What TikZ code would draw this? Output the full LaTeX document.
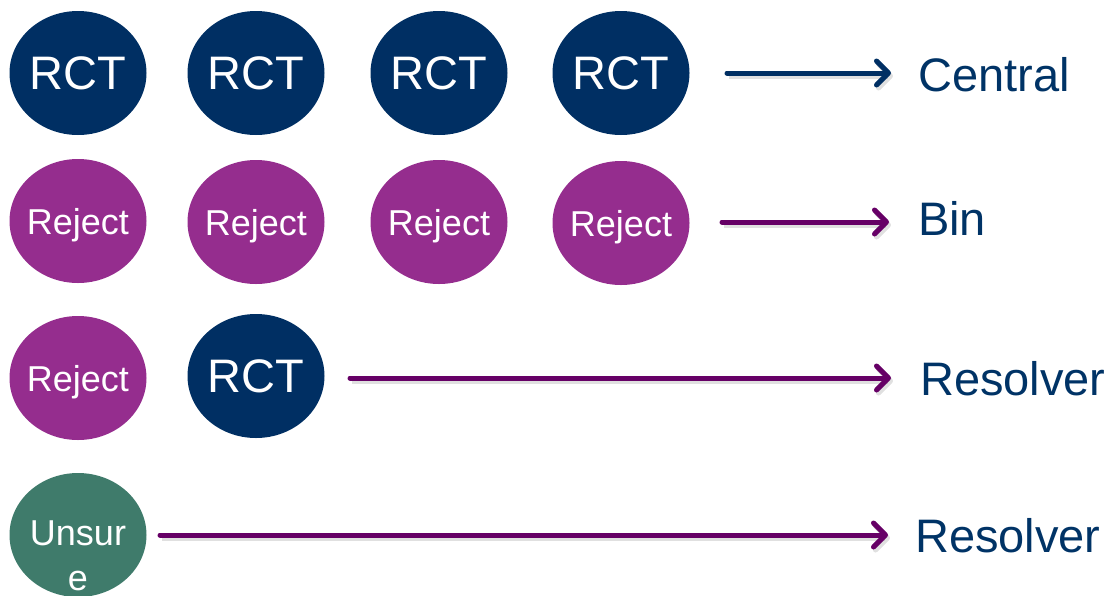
\documentclass[tikz,border=0pt]{standalone}
\usepackage{fontspec}
\setmainfont{Liberation Sans}
\usetikzlibrary{arrows.meta,shapes.geometric}
\definecolor{navy}{HTML}{002F63}
\definecolor{plum}{HTML}{952D8E}
\definecolor{arrowplum}{HTML}{660066}
\definecolor{teal}{HTML}{3F7B6B}
\definecolor{labelblue}{HTML}{003366}
% zero-width text box so the ellipse keeps its fixed size
\newcommand{\ovaltext}[1]{\makebox[0pt]{#1}}
\tikzset{
  oval/.style={ellipse, draw=none, minimum width=137pt, minimum height=124pt,
    inner sep=0pt, text=white, text depth=0pt},
  rct/.style={oval, fill=navy, font=\fontsize{47}{50}\selectfont},
  rej/.style={oval, fill=plum, font=\fontsize{36}{40}\selectfont},
  uns/.style={oval, fill=teal},
  dest/.style={anchor=base west, inner sep=0pt, text=labelblue,
    font=\fontsize{47}{50}\selectfont},
  flow/.style={line width=5pt, line cap=round,
    -{Straight Barb[length=12pt, width=24pt, round]},
    preaction={draw=black!35, opacity=0.35, line width=5pt,
      transform canvas={xshift=2pt, yshift=-3pt}}},
}
\begin{document}
\begin{tikzpicture}[x=1pt, y=-1pt]
\useasboundingbox (0,0) rectangle (1111,595);
\clip (0,0) rectangle (1111,595);

% row 1: included trials
\node[rct] (a1) at (78,73)  {\ovaltext{RCT}};
\node[rct] (a2) at (256,73) {\ovaltext{RCT}};
\node[rct] (a3) at (439,73) {\ovaltext{RCT}};
\node[rct] (a4) at (621,73) {\ovaltext{RCT}};
\node[dest] (central) at (918,91) {Central};

% row 2: rejected
\node[rej] (b1) at (78,221)  {\ovaltext{Reject}};
\node[rej] (b2) at (256,222) {\ovaltext{Reject}};
\node[rej] (b3) at (439,222) {\ovaltext{Reject}};
\node[rej] (b4) at (621,223) {\ovaltext{Reject}};
\node[dest] (bin) at (918,235) {Bin};

% row 3: disagreement
\node[rej] (c1) at (78,378)  {\ovaltext{Reject}};
\node[rct] (c2) at (256,376) {\ovaltext{RCT}};
\node[dest] (res1) at (920,395) {Resolver};

% row 4: undecided
\node[uns] (d1) at (78,535) {};
\node[anchor=base, inner sep=0pt, text=white, align=center,
  font=\fontsize{36}{45}\selectfont] (d1t) at (78,590) {Unsur\\e};
\node[dest] (res2) at (915,552) {Resolver};

% connectors
\coordinate (s1) at (727,73);
\coordinate (s2) at (722,222);
\coordinate (s3) at (350,378);
\coordinate (s4) at (160,535);
\draw[flow, draw=navy, shorten >=27pt]      (s1) -- (central.west |- s1);
\draw[flow, draw=arrowplum, shorten >=29pt] (s2) -- (bin.west |- s2);
\draw[flow, draw=arrowplum, shorten >=29pt] (s3) -- (res1.west |- s3);
\draw[flow, draw=arrowplum, shorten >=27pt] (s4) -- (res2.west |- s4);
\end{tikzpicture}
\end{document}
